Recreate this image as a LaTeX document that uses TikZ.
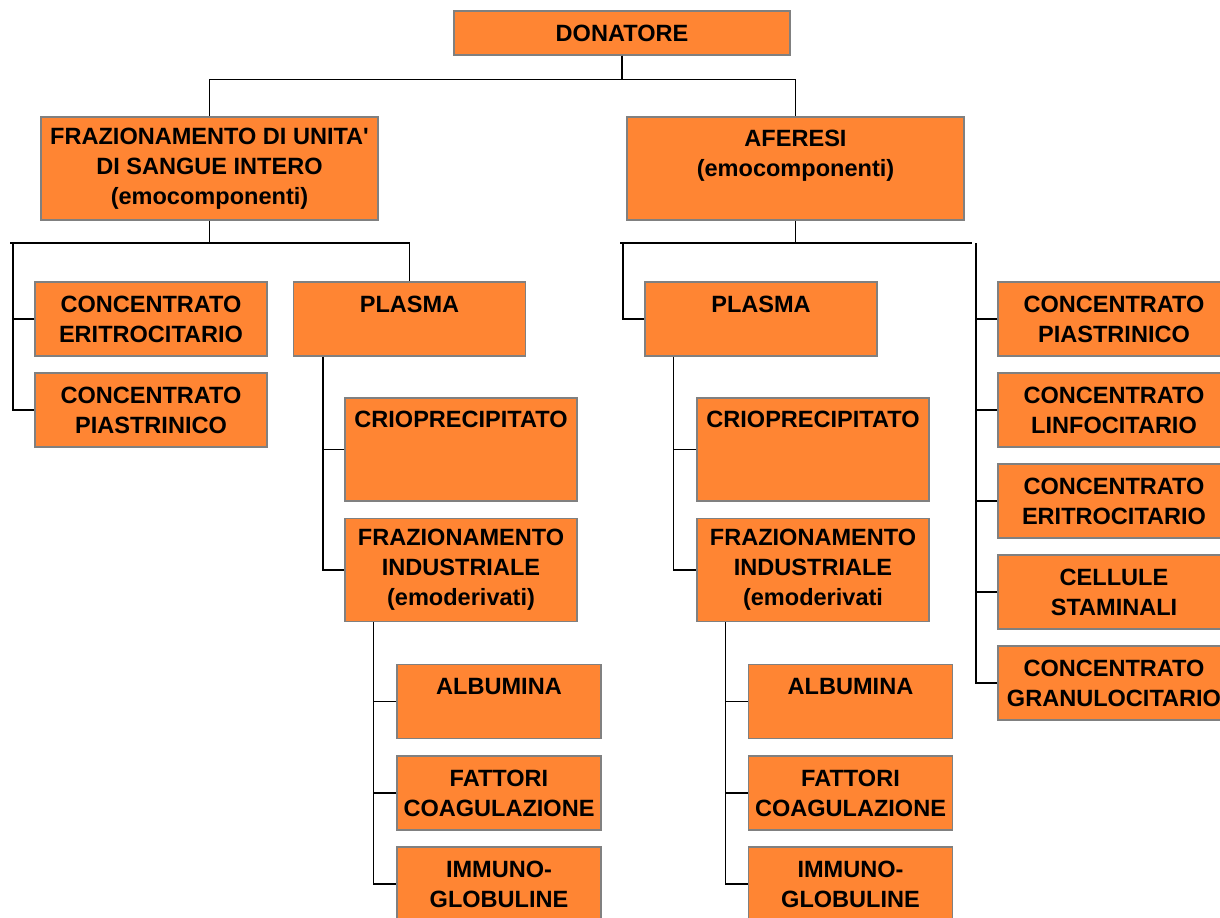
\documentclass[tikz,border=0pt]{standalone}
\usepackage{fontspec}
\setmainfont{Liberation Sans}[Ligatures=TeXOff]
\usepackage{tikz}
\usetikzlibrary{positioning}
\definecolor{boxorange}{RGB}{255,133,51}
\definecolor{boxgray}{RGB}{128,128,128}
\tikzstyle{box0}=[rectangle, fill=boxorange, draw=boxgray, line width=0.8pt, inner sep=0pt, minimum width=6.72cm, minimum height=0.88cm, align=center, font=\bfseries\fontsize{13.4}{17}\selectfont]
\tikzstyle{box1}=[rectangle, fill=boxorange, draw=boxgray, line width=0.8pt, inner sep=0pt, minimum width=6.74cm, minimum height=2.06cm, align=center, font=\bfseries\fontsize{13.4}{17}\selectfont]
\tikzstyle{box2}=[rectangle, fill=boxorange, draw=boxgray, line width=0.8pt, inner sep=0pt, minimum width=4.64cm, minimum height=1.48cm, align=center, font=\bfseries\fontsize{13.4}{17}\selectfont]
\tikzstyle{box3}=[rectangle, fill=boxorange, draw=boxgray, line width=0.8pt, inner sep=0pt, minimum width=4.64cm, minimum height=2.06cm, align=center, font=\bfseries\fontsize{13.4}{17}\selectfont]
\tikzstyle{box4}=[rectangle, fill=boxorange, draw=boxgray, line width=0.8pt, inner sep=0pt, minimum width=4.08cm, minimum height=1.48cm, align=center, font=\bfseries\fontsize{13.4}{17}\selectfont]
\tikzstyle{link}=[draw=black, line width=0.9pt]
\begin{document}
\begin{tikzpicture}[x=0.02cm,y=-0.02cm]
\useasboundingbox (0,0) rectangle (1220,917);
%Top
\node[box0] (don) at (622,33){DONATORE};
\node[box1] (fraz) at (209.5,168.5){FRAZIONAMENTO DI UNITA'\\DI SANGUE INTERO\\(emocomponenti)};
\node[box1] (afe) at (795.5,168.5){AFERESI\\(emocomponenti)\\\mbox{}};
%Left branch
\node[box2] (ceL) at (151,319){CONCENTRATO\\ERITROCITARIO};
\node[box2] (cpL) at (151,410){CONCENTRATO\\PIASTRINICO};
\node[box2] (plasL) at (409.5,319){PLASMA\\\mbox{}};
\node[box3] (criL) at (461,449.5){CRIOPRECIPITATO\\\mbox{}\\\mbox{}};
\node[box3] (fiL) at (461,570){FRAZIONAMENTO\\INDUSTRIALE\\(emoderivati)};
\node[box4] (albL) at (499,701.5){ALBUMINA\\\mbox{}};
\node[box4] (fatL) at (499,793){FATTORI\\COAGULAZIONE};
\node[box4] (immL) at (499,884){IMMUNO-\\GLOBULINE};
%Right branch
\node[box2] (plasR) at (761,319){PLASMA\\\mbox{}};
\node[box3] (criR) at (813,449.5){CRIOPRECIPITATO\\\mbox{}\\\mbox{}};
\node[box3] (fiR) at (813,570){FRAZIONAMENTO\\INDUSTRIALE\\(emoderivati};
\node[box4] (albR) at (850.5,701.5){ALBUMINA\\\mbox{}};
\node[box4] (fatR) at (850.5,793){FATTORI\\COAGULAZIONE};
\node[box4] (immR) at (850.5,884){IMMUNO-\\GLOBULINE};
%Right column
\node[box2] (r1) at (1114,319){CONCENTRATO\\PIASTRINICO};
\node[box2] (r2) at (1114,410){CONCENTRATO\\LINFOCITARIO};
\node[box2] (r3) at (1114,501){CONCENTRATO\\ERITROCITARIO};
\node[box2] (r4) at (1114,592){CELLULE\\STAMINALI};
\node[box2] (r5) at (1114,683){CONCENTRATO\\GRANULOCITARIO};
%Lines
\coordinate (busL) at (13,243);
\coordinate (busL0) at (10,243);
\coordinate (busR0) at (620,243);
\coordinate (busR1) at (623,243);
\coordinate (busR2) at (976,243);
\coordinate (busR3) at (972,243);
\draw[link] (don.south) -- ++(0,24) -| (fraz.north);
\draw[link] (don.south) -- ++(0,24) -| (afe.north);
\draw[link] (busL0) -- (plasL.north |- busL) -- (plasL.north);
\draw[link] (fraz.south) -- (fraz.south |- busL);
\draw[link] (busL) |- (cpL.west);
\draw[link] (ceL.west) -- (ceL.west -| busL);
\draw[link] ([xshift=0.6cm]plasL.south west) |- (fiL.west);
\draw[link] (criL.west) -- ++(-22,0);
\draw[link] ([xshift=0.58cm]fiL.south west) |- (immL.west);
\draw[link] (albL.west) -- ++(-22,0);
\draw[link] (fatL.west) -- ++(-22,0);
\draw[link] (busR0) -- (busR3);
\draw[link] (afe.south) -- (afe.south |- busR1);
\draw[link] (busR1) |- (plasR.west);
\draw[link] ([xshift=0.58cm]plasR.south west) |- (fiR.west);
\draw[link] (criR.west) -- ++(-23,0);
\draw[link] ([xshift=0.58cm]fiR.south west) |- (immR.west);
\draw[link] (albR.west) -- ++(-23,0);
\draw[link] (fatR.west) -- ++(-23,0);
\draw[link] (busR2) |- (r5.west);
\draw[link] (r1.west) -- (r1.west -| busR2);
\draw[link] (r2.west) -- (r2.west -| busR2);
\draw[link] (r3.west) -- (r3.west -| busR2);
\draw[link] (r4.west) -- (r4.west -| busR2);
\end{tikzpicture}
\end{document}
